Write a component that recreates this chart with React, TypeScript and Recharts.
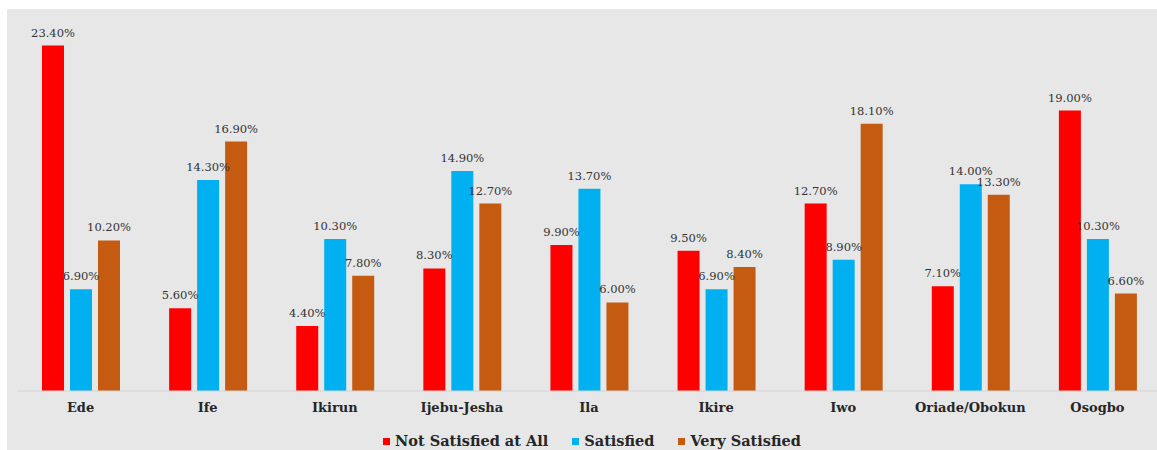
import React from "react";
import { BarChart, Bar, XAxis, YAxis, LabelList } from "recharts";

const categories = ["Ede", "Ife", "Ikirun", "Ijebu-Jesha", "Ila", "Ikire", "Iwo", "Oriade/Obokun", "Osogbo"];
const notSatisfied = [23.4, 5.6, 4.4, 8.3, 9.9, 9.5, 12.7, 7.1, 19.0];
const satisfied = [6.9, 14.3, 10.3, 14.9, 13.7, 6.9, 8.9, 14.0, 10.3];
const verySatisfied = [10.2, 16.9, 7.8, 12.7, 6.0, 8.4, 18.1, 13.3, 6.6];

const series = [
  { key: "notSatisfied", name: "Not Satisfied at All", color: "#FF0000" },
  { key: "satisfied", name: "Satisfied", color: "#00B0F0" },
  { key: "verySatisfied", name: "Very Satisfied", color: "#C55A11" },
];

const data = categories.map((c, i) => ({
  name: c,
  notSatisfied: notSatisfied[i],
  satisfied: satisfied[i],
  verySatisfied: verySatisfied[i],
}));

const FONT = "'DejaVu Serif', Georgia, serif";
const fmt = (v: number) => `${v.toFixed(2)}%`;

export default function App() {
  return (
    <div style={{ position: "relative", width: 1157, height: 450, overflow: "hidden", background: "#fff" }}>
      <style>{`html,body{margin:0;padding:0;overflow:hidden;}`}</style>
      <div style={{ position: "absolute", left: 7, top: 9, right: 0, bottom: 0, background: "#E7E7E7" }} />
      <div style={{ position: "absolute", left: 0, top: 0 }}>
        <BarChart
          width={1165}
          height={450}
          data={data}
          margin={{ top: 22, right: 4, left: 17, bottom: 29 }}
          barSize={22}
          barGap={6}
        >
          <XAxis
            dataKey="name"
            height={30}
            tickLine={false}
            axisLine={{ stroke: "#D4D4D4" }}
            interval={0}
            dy={4}
            tick={{ fill: "#262626", fontSize: 13, fontWeight: 700, fontFamily: FONT }}
          />
          <YAxis hide domain={[0, 25]} />
          {series.map((s) => (
            <Bar key={s.key} dataKey={s.key} name={s.name} fill={s.color} isAnimationActive={false}>
              <LabelList
                dataKey={s.key}
                position="top"
                offset={9}
                formatter={(v: any) => fmt(Number(v))}
                style={{ fill: "#333333", fontSize: 11.5, fontFamily: FONT }}
              />
            </Bar>
          ))}
        </BarChart>
      </div>
      <div
        style={{
          position: "absolute",
          left: 383,
          top: 432,
          display: "flex",
          fontFamily: FONT,
          fontWeight: 700,
          fontSize: 14.5,
          lineHeight: "17px",
          color: "#262626",
          whiteSpace: "nowrap",
        }}
      >
        {series.map((s, i) => (
          <div key={s.key} style={{ display: "flex", alignItems: "center", marginLeft: i === 0 ? 0 : 24 }}>
            <span style={{ display: "inline-block", width: 7, height: 7, background: s.color, marginRight: 5, marginTop: 2 }} />
            <span>{s.name}</span>
          </div>
        ))}
      </div>
    </div>
  );
}
